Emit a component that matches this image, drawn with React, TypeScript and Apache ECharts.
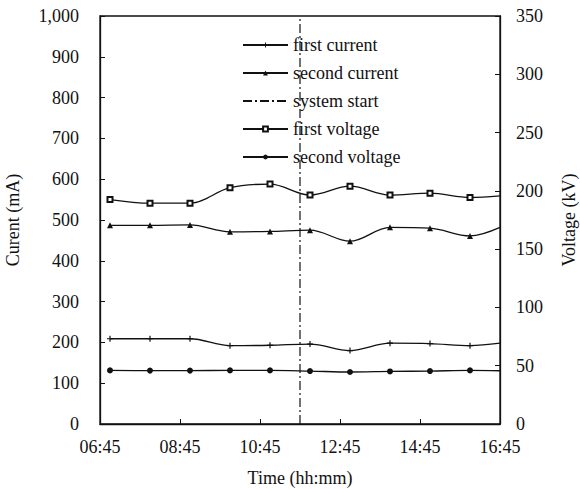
import React, { useEffect, useRef } from "react";
import * as echarts from "echarts";

// Sample times (hh:mm)
const times = ["07:00", "08:00", "09:00", "10:00", "11:00", "12:00", "13:00", "14:00", "15:00", "16:00", "16:45"];
// Currents (mA)
const firstCurrent = [209, 209, 209, 192, 193, 196, 180, 198, 197, 192, 198];
const secondCurrent = [487, 487, 488, 471, 472, 475, 448, 482, 480, 461, 482];
// Voltages (kV)
const firstVoltage = [192.5, 189.4, 189.4, 202.7, 205.8, 196.4, 204.0, 196.4, 198.0, 194.3, 195.7];
const secondVoltage = [46.0, 45.8, 45.8, 46.0, 46.0, 45.4, 44.6, 45.1, 45.4, 46.0, 45.7];
// System start time
const systemStart = "11:45";
// Axis settings
const xStart = "06:45";
const xTickLabels = ["06:45", "08:45", "10:45", "12:45", "14:45", "16:45"];
const currentTicks = [0, 100, 200, 300, 400, 500, 600, 700, 800, 900, 1000];
const voltageTicks = [0, 50, 100, 150, 200, 250, 300, 350];
const legendNames = ["first current", "second current", "system start", "first voltage", "second voltage"];

const toMin = (t: string) => {
  const [h, m] = t.split(":").map(Number);
  return h * 60 + m;
};
const base = toMin(xStart);
const offs = (t: string) => toMin(t) - base;
const fmtTime = (v: number) => {
  const total = v + base;
  const h = Math.floor(total / 60);
  const m = total % 60;
  return String(h).padStart(2, "0") + ":" + String(m).padStart(2, "0");
};
const addCommas = (v: number) => String(v).replace(/\B(?=(\d{3})+(?!\d))/g, ",");

const FONT = "Liberation Serif";
const INK = "#111";

const build = (vals: number[]) =>
  vals.map((v, i) =>
    i === vals.length - 1 ? { value: [offs(times[i]), v], symbol: "none" } : [offs(times[i]), v]
  );

export default function App() {
  const ref = useRef<HTMLDivElement>(null);
  useEffect(() => {
    if (!ref.current) return;
    const chart = echarts.init(ref.current, undefined, { renderer: "svg" });
    const lineStyle = { color: INK, width: 1.3 };
    const xMax = offs(xTickLabels[xTickLabels.length - 1]);
    const txt = { fontFamily: FONT, fontSize: 18, color: INK };
    chart.setOption({
      animation: false,
      textStyle: { fontFamily: FONT },
      grid: {
        left: 100,
        right: 80,
        top: 16,
        bottom: 65,
        show: true,
        borderColor: INK,
        borderWidth: 1.3,
        containLabel: false,
        outerBoundsMode: "none",
      },
      legend: {
        orient: "vertical",
        left: 242,
        top: 36,
        itemWidth: 45,
        itemHeight: 6,
        itemGap: 10,
        padding: 0,
        textStyle: txt,
        data: legendNames.map((n) =>
          n === "system start" ? { name: n, itemStyle: { opacity: 0 } } : { name: n }
        ),
      },
      xAxis: {
        type: "value",
        min: 0,
        max: xMax,
        interval: 120,
        name: "Time (hh:mm)",
        nameLocation: "middle",
        nameGap: 45,
        nameTextStyle: txt,
        axisLine: { show: true, lineStyle: { color: INK, width: 1.3 } },
        axisTick: { show: true, inside: true, length: 5, lineStyle: { color: INK } },
        axisLabel: { ...txt, formatter: (v: number) => fmtTime(v), margin: 14 },
        splitLine: { show: false },
      },
      yAxis: [
        {
          type: "value",
          min: currentTicks[0],
          max: currentTicks[currentTicks.length - 1],
          interval: currentTicks[1] - currentTicks[0],
          name: "Curent (mA)",
          nameLocation: "middle",
          nameGap: 78,
          nameTextStyle: txt,
          axisLine: { show: true, lineStyle: { color: INK, width: 1.3 } },
          axisTick: { show: true, inside: true, length: 5, lineStyle: { color: INK } },
          axisLabel: { ...txt, formatter: (v: number) => addCommas(v), margin: 21 },
          splitLine: { show: false },
        },
        {
          type: "value",
          min: voltageTicks[0],
          max: voltageTicks[voltageTicks.length - 1],
          interval: voltageTicks[1] - voltageTicks[0],
          name: "Voltage (kV)",
          nameLocation: "middle",
          nameGap: 60,
          nameTextStyle: txt,
          axisLine: { show: true, lineStyle: { color: INK, width: 1.3 } },
          axisTick: { show: true, inside: true, length: 5, lineStyle: { color: INK } },
          axisLabel: { ...txt, margin: 16 },
          splitLine: { show: false },
        },
      ],
      series: [
        {
          name: "first current",
          type: "line",
          yAxisIndex: 0,
          smooth: 0.35,
          symbol: "path://M4,0h2v4h4v2h-4v4h-2v-4h-4v-2h4z",
          symbolSize: 6,
          itemStyle: { color: INK },
          lineStyle,
          data: build(firstCurrent),
        },
        {
          name: "second current",
          type: "line",
          yAxisIndex: 0,
          smooth: 0.35,
          symbol: "triangle",
          symbolSize: 6,
          itemStyle: { color: INK },
          lineStyle,
          data: build(secondCurrent),
        },
        {
          name: "system start",
          type: "line",
          yAxisIndex: 0,
          symbol: "none",
          itemStyle: { color: INK },
          lineStyle: { color: INK, width: 1.2, type: [9, 3, 2, 3] },
          data: [
            [offs(systemStart), currentTicks[0]],
            [offs(systemStart), currentTicks[currentTicks.length - 1]],
          ],
        },
        {
          name: "first voltage",
          type: "line",
          yAxisIndex: 1,
          smooth: 0.35,
          symbol: "emptyRect",
          symbolSize: 5,
          itemStyle: { color: INK, borderWidth: 1.2 },
          lineStyle,
          data: build(firstVoltage),
        },
        {
          name: "second voltage",
          type: "line",
          yAxisIndex: 1,
          smooth: 0.35,
          symbol: "circle",
          symbolSize: 6,
          itemStyle: { color: INK },
          lineStyle,
          data: build(secondVoltage),
        },
      ],
    });
    return () => chart.dispose();
  }, []);
  return (
    <div
      ref={ref}
      style={{ position: "absolute", left: 0, top: 0, width: 580, height: 489, background: "#fff" }}
    />
  );
}
